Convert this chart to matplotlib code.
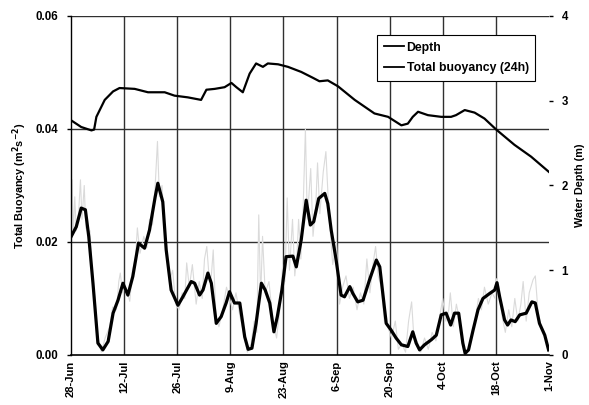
import matplotlib
matplotlib.use("Agg")
import matplotlib.pyplot as plt

plt.rcParams["font.family"] = ["Liberation Sans", "DejaVu Sans"]
plt.rcParams["font.weight"] = "bold"

# date ticks, 14 days apart starting 28-Jun
TICK_DAYS = [0, 14, 28, 42, 56, 70, 84, 98, 112, 126]
TICK_LABELS = ["28-Jun", "12-Jul", "26-Jul", "9-Aug", "23-Aug", "6-Sep",
               "20-Sep", "4-Oct", "18-Oct", "1-Nov"]

# water depth (m), days since 28-Jun
depth_day = [0, 2.7, 5.4, 6.1, 6.7, 8.9, 11.1, 12.8, 16.8, 20.3, 24.7, 27.3,
             30.8, 34.3, 35.7, 37.9, 40.5, 42.3, 43.6, 45.3, 47.1, 48.8, 50.6,
             51.9, 54.6, 57.2, 60.7, 63.8, 65.5, 67.7, 70.4, 74.8, 80.0, 83.6,
             87.1, 88.8, 90.1, 91.5, 94.1, 97.6, 100.2, 101.5, 103.8, 106.4,
             109.0, 112.1, 116.9, 121.3, 126.0]
depth_m = [2.77, 2.69, 2.65, 2.66, 2.81, 3.01, 3.11, 3.15, 3.14, 3.10, 3.10,
           3.06, 3.04, 3.01, 3.13, 3.14, 3.16, 3.21, 3.16, 3.10, 3.32, 3.44,
           3.40, 3.44, 3.43, 3.40, 3.34, 3.27, 3.23, 3.24, 3.17, 3.01, 2.85,
           2.81, 2.71, 2.73, 2.81, 2.87, 2.83, 2.81, 2.81, 2.83, 2.89, 2.86,
           2.79, 2.66, 2.48, 2.34, 2.16]

# 24 h smoothed total buoyancy
buoy_day = [0, 1.4, 2.7, 3.8, 4.7, 5.8, 7.1, 8.4, 9.8, 11.1, 12.4, 13.7, 15.0,
            16.3, 17.8, 19.4, 20.7, 22.2, 22.9, 24.2, 25.1, 26.4, 28.2, 29.5,
            31.7, 32.6, 33.9, 34.8, 36.1, 37.0, 38.3, 39.6, 40.9, 41.8, 43.1,
            44.5, 45.8, 46.7, 47.7, 48.8, 50.2, 51.2, 52.4, 53.5, 54.4, 55.6,
            56.7, 58.5, 59.4, 60.7, 62.0, 63.1, 64.0, 65.3, 66.9, 67.7, 68.6,
            69.9, 71.2, 72.1, 73.5, 74.3, 75.6, 77.0, 78.7, 80.5, 81.4, 82.2,
            83.1, 84.4, 85.7, 87.1, 88.8, 90.1, 91.0, 91.9, 93.2, 95.0, 96.3,
            97.6, 98.9, 100.1, 101.1, 102.2, 103.3, 103.9, 104.8, 106.0,
            107.3, 108.6, 110.4, 111.7, 112.3, 113.0, 114.3, 115.1, 116.0,
            117.1, 118.3, 120.0, 121.5, 122.4, 123.5, 124.9, 125.9]
buoy_24h = [0.0209, 0.0227, 0.0260, 0.0257, 0.0209, 0.0127, 0.0021, 0.0009,
            0.0024, 0.0074, 0.0097, 0.0127, 0.0106, 0.0139, 0.0198, 0.0189,
            0.0221, 0.0280, 0.0304, 0.0271, 0.0186, 0.0115, 0.0088, 0.0103,
            0.0130, 0.0127, 0.0106, 0.0115, 0.0145, 0.0127, 0.0056, 0.0068,
            0.0092, 0.0112, 0.0092, 0.0092, 0.0032, 0.0010, 0.0012, 0.0056,
            0.0127, 0.0115, 0.0092, 0.0041, 0.0068, 0.0115, 0.0174, 0.0175,
            0.0156, 0.0204, 0.0274, 0.0230, 0.0236, 0.0277, 0.0286, 0.0268,
            0.0221, 0.0168, 0.0106, 0.0103, 0.0121, 0.0109, 0.0094, 0.0097,
            0.0133, 0.0168, 0.0156, 0.0109, 0.0056, 0.0044, 0.0030, 0.0018,
            0.0015, 0.0041, 0.0021, 0.0009, 0.0018, 0.0027, 0.0035, 0.0071,
            0.0074, 0.0053, 0.0074, 0.0074, 0.0021, 0.0003, 0.0009, 0.0044,
            0.0080, 0.0100, 0.0109, 0.0115, 0.0128, 0.0103, 0.0062, 0.0053,
            0.0062, 0.0059, 0.0071, 0.0074, 0.0094, 0.0092, 0.0056, 0.0035,
            0.0009]

# unsmoothed buoyancy (thin grey trace)
raw_day = [0, 0.3, 0.6, 1.0, 1.4, 2.0, 2.5, 2.9, 3.5, 3.9, 4.6, 5.0, 5.5, 6.3,
           7.0, 8.0, 9.0, 10.2, 11.0, 12.0, 12.6, 13.0, 13.6, 14.5, 15.5,
           16.2, 17.0, 17.5, 18.2, 19.2, 20.0, 20.7, 21.5, 22.2, 22.8, 23.3,
           24.0, 24.6, 25.3, 26.0, 26.8, 27.6, 28.5, 29.3, 30.0, 30.5, 31.2,
           32.0, 33.0, 33.8, 34.6, 35.2, 35.8, 36.5, 37.0, 37.5, 38.2, 39.0,
           40.0, 41.0, 41.8, 42.6, 43.5, 44.5, 45.5, 46.5, 47.5, 48.3, 49.0,
           49.5, 50.0, 50.5, 51.2, 52.2, 53.2, 54.2, 55.2, 55.8, 56.4, 57.0,
           57.6, 58.4, 59.0, 59.6, 60.0, 60.6, 61.2, 61.8, 62.3, 63.2, 63.8,
           64.5, 65.0, 65.6, 66.5, 67.2, 68.0, 69.0, 70.0, 70.8, 71.6, 72.5,
           73.4, 74.4, 75.4, 76.3, 77.2, 78.0, 78.8, 79.6, 80.3, 81.0, 81.8,
           82.6, 83.5, 84.5, 85.5, 86.3, 87.2, 88.2, 89.0, 89.8, 90.4, 91.2,
           92.2, 93.2, 94.2, 95.2, 96.2, 97.0, 98.0, 98.8, 99.6, 100.0, 100.8,
           101.6, 102.5, 103.5, 104.5, 105.5, 106.5, 107.4, 108.2, 109.0,
           110.0, 111.0, 111.8, 112.2, 112.8, 113.6, 114.5, 115.4, 116.2,
           117.0, 117.8, 118.6, 119.2, 120.0, 120.8, 121.8, 122.4, 123.2,
           124.0, 124.8, 125.5, 126.0]
raw_val = [0.0200, 0.0310, 0.0215, 0.0280, 0.0220, 0.0250, 0.0310, 0.0240,
           0.0300, 0.0225, 0.0215, 0.0220, 0.0150, 0.0100, 0.0035, 0.0005,
           0.0030, 0.0050, 0.0085, 0.0080, 0.0130, 0.0145, 0.0110, 0.0120,
           0.0095, 0.0150, 0.0170, 0.0225, 0.0180, 0.0210, 0.0190, 0.0240,
           0.0230, 0.0300, 0.0378, 0.0280, 0.0300, 0.0230, 0.0170, 0.0130,
           0.0150, 0.0090, 0.0080, 0.0110, 0.0100, 0.0163, 0.0120, 0.0160,
           0.0090, 0.0130, 0.0100, 0.0170, 0.0192, 0.0130, 0.0140, 0.0186,
           0.0070, 0.0050, 0.0080, 0.0120, 0.0100, 0.0080, 0.0110, 0.0070,
           0.0040, 0.0005, 0.0020, 0.0060, 0.0040, 0.0248, 0.0100, 0.0210,
           0.0110, 0.0130, 0.0060, 0.0030, 0.0090, 0.0160, 0.0130, 0.0278,
           0.0150, 0.0240, 0.0140, 0.0180, 0.0240, 0.0170, 0.0260, 0.0400,
           0.0240, 0.0330, 0.0210, 0.0260, 0.0340, 0.0250, 0.0324, 0.0360,
           0.0250, 0.0160, 0.0200, 0.0090, 0.0120, 0.0140, 0.0100, 0.0120,
           0.0080, 0.0110, 0.0090, 0.0170, 0.0110, 0.0160, 0.0192, 0.0140,
           0.0120, 0.0060, 0.0050, 0.0030, 0.0060, 0.0010, 0.0020, 0.0005,
           0.0060, 0.0094, 0.0030, 0.0025, 0.0005, 0.0030, 0.0010, 0.0040,
           0.0025, 0.0060, 0.0100, 0.0060, 0.0080, 0.0110, 0.0050, 0.0090,
           0.0060, 0.0010, 0.0003, 0.0030, 0.0060, 0.0100, 0.0080, 0.0120,
           0.0090, 0.0110, 0.0100, 0.0135, 0.0120, 0.0070, 0.0040, 0.0080,
           0.0050, 0.0100, 0.0060, 0.0090, 0.0130, 0.0060, 0.0110, 0.0133,
           0.0140, 0.0070, 0.0050, 0.0040, 0.0020, 0.0005]

fig = plt.figure(figsize=(5.89, 4.05), dpi=100)
ax = fig.add_axes([0.1205, 0.1235, 0.8115, 0.837])
ax2 = ax.twinx()

# grid: horizontal on the buoyancy scale, vertical at each date tick
for yv in [0.02, 0.04, 0.06]:
    ax.axhline(yv, color="#303030", lw=1.0, zorder=1)
for xv in TICK_DAYS[1:-1]:
    ax.axvline(xv, color="#303030", lw=1.0, zorder=1)

ax.plot(raw_day, raw_val, color="#dadada", lw=0.8, zorder=2)
ax.plot(buoy_day, buoy_24h, color="black", lw=2.3, zorder=3,
        label="Total buoyancy (24h)")
ax2.plot(depth_day, depth_m, color="black", lw=1.6, label="Depth")

FS = 8.3
ax.set_xlim(0, 126)
ax.set_ylim(0, 0.06)
ax2.set_ylim(0, 4)
ax.set_xticks(TICK_DAYS)
ax.set_xticklabels(TICK_LABELS, rotation=90, fontsize=8, fontweight="bold")
ax.set_yticks([0, 0.02, 0.04, 0.06])
ax.set_yticklabels(["0.00", "0.02", "0.04", "0.06"], fontsize=FS,
                   fontweight="bold")
ax2.set_yticks([0, 1, 2, 3, 4])
ax2.set_yticklabels(["0", "1", "2", "3", "4"], fontsize=FS,
                    fontweight="bold")

ax.tick_params(axis="x", length=0, pad=4)
ax.tick_params(axis="y", length=3, width=1, direction="out", pad=6)
ax2.tick_params(axis="y", length=3, width=1, direction="out", pad=6)
for a in (ax, ax2):
    a.spines["top"].set_visible(False)
    a.spines["right"].set_visible(False)
ax2.spines["left"].set_visible(False)
ax2.spines["bottom"].set_visible(False)
ax.spines["left"].set_linewidth(1.0)
ax.spines["bottom"].set_linewidth(1.2)

ax.set_ylabel("Total Buoyancy (m$^{2}$s$^{-2}$)", fontsize=7.8,
              fontweight="bold", labelpad=5)
ax2.set_ylabel("Water Depth (m)", fontsize=7.8, fontweight="bold",
               labelpad=5)

h1, l1 = ax2.get_legend_handles_labels()
h2, l2 = ax.get_legend_handles_labels()
leg = ax2.legend(h1 + h2, l1 + l2, loc="upper left",
                 bbox_to_anchor=(0.628, 0.962),
                 fancybox=False, framealpha=1, edgecolor="black",
                 handlelength=1.6, handletextpad=0.25, borderpad=0.55,
                 labelspacing=0.7, prop={"weight": "bold", "size": 8.8})
leg.get_frame().set_linewidth(0.8)
for line in leg.get_lines():
    line.set_linewidth(1.3)

fig.savefig("out.png", dpi=100)
